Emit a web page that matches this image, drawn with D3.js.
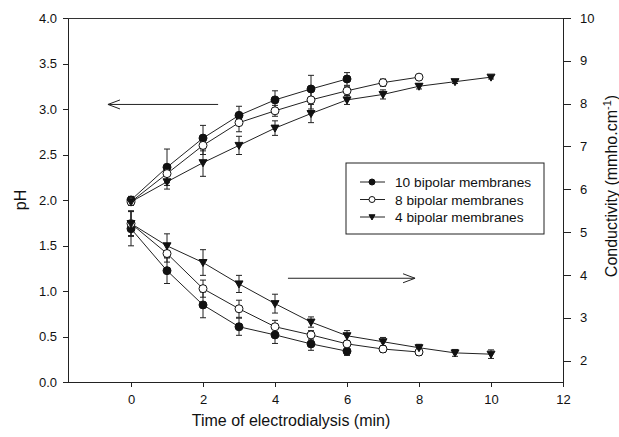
<!DOCTYPE html>
<meta charset="utf-8">
<style>
body { margin: 0; background: #fff; }
text { font-family: "Liberation Sans", Arial, sans-serif; fill: #111; }
.axis path, .axis line { stroke: #222; shape-rendering: crispEdges; }
.axis text { font-size: 13px; }
</style>
<script src="https://cdn.jsdelivr.net/npm/d3@7"></script>
<body>
<script>

// time (min) for each run
var time10 = [0, 1, 2, 3, 4, 5, 6];
var time8 = [0, 1, 2, 3, 4, 5, 6, 7, 8];
var time4 = [0, 1, 2, 3, 4, 5, 6, 7, 8, 9, 10];

// pH (left axis)
var ph10 = [2.00, 2.36, 2.68, 2.93, 3.10, 3.22, 3.33];
var ph10Err = [0.04, 0.20, 0.14, 0.10, 0.10, 0.15, 0.07];
var ph8 = [1.98, 2.29, 2.60, 2.85, 2.98, 3.10, 3.20, 3.29, 3.35];
var ph8Err = [0.04, 0.10, 0.10, 0.10, 0.06, 0.10, 0.05, 0.04, 0.02];
var ph4 = [1.98, 2.20, 2.41, 2.60, 2.79, 2.95, 3.10, 3.16, 3.25, 3.30, 3.35];
var ph4Err = [0.04, 0.08, 0.15, 0.10, 0.08, 0.10, 0.05, 0.05, 0.03, 0.02, 0.02];

// conductivity, mmho/cm (right axis)
var cond10 = [5.08, 4.10, 3.30, 2.79, 2.60, 2.39, 2.22];
var cond10Err = [0.40, 0.30, 0.30, 0.20, 0.20, 0.15, 0.10];
var cond8 = [5.20, 4.50, 3.68, 3.21, 2.79, 2.60, 2.39, 2.27, 2.20];
var cond8Err = [0.30, 0.20, 0.20, 0.20, 0.15, 0.10, 0.08, 0.08, 0.08];
var cond4 = [5.20, 4.68, 4.29, 3.79, 3.33, 2.90, 2.58, 2.44, 2.30, 2.18, 2.15];
var cond4Err = [0.28, 0.28, 0.30, 0.20, 0.22, 0.12, 0.12, 0.10, 0.08, 0.08, 0.10];

var xTicks = [0, 2, 4, 6, 8, 10, 12];
var phTicks = [0, 0.5, 1, 1.5, 2, 2.5, 3, 3.5, 4];
var condTicks = [2, 3, 4, 5, 6, 7, 8, 9, 10];
var legendNames = ["10 bipolar membranes", "8 bipolar membranes", "4 bipolar membranes"];

var w = 619, h = 437;
var pLeft = 68, pRight = 563, pTop = 18, pBottom = 382;

var svg = d3.select("body").append("svg")
    .attr("width", w)
    .attr("height", h);

var x = d3.scaleLinear().domain([-1.75, 12]).range([pLeft, pRight]);
var yL = d3.scaleLinear().domain([0, 4]).range([pBottom, pTop]);
var yR = d3.scaleLinear().domain([1.5, 10]).range([pBottom, pTop]);

// frame top line
svg.append("line")
    .attr("x1", pLeft).attr("x2", pRight)
    .attr("y1", pTop).attr("y2", pTop)
    .attr("stroke", "#333").attr("shape-rendering", "crispEdges");

svg.append("g").attr("class", "axis")
    .attr("transform", "translate(0," + pBottom + ")")
    .call(d3.axisBottom(x).tickValues(xTicks).tickSize(5).tickPadding(8).tickSizeOuter(0));

svg.append("g").attr("class", "axis")
    .attr("transform", "translate(" + pLeft + ",0)")
    .call(d3.axisLeft(yL).tickValues(phTicks).tickFormat(d3.format(".1f")).tickSize(5).tickPadding(6).tickSizeOuter(0));

var rAxis = svg.append("g").attr("class", "axis")
    .attr("transform", "translate(" + pRight + ",0)")
    .call(d3.axisRight(yR).tickValues(condTicks).tickSize(8).tickPadding(9).tickSizeOuter(0));
rAxis.selectAll("path, line").attr("stroke", "#777");

// axis titles
svg.append("text")
    .attr("x", 291).attr("y", 426)
    .attr("text-anchor", "middle")
    .style("font-size", "16px")
    .text("Time of electrodialysis (min)");

svg.append("text")
    .attr("transform", "translate(26,200) rotate(-90)")
    .attr("text-anchor", "middle")
    .style("font-size", "16px")
    .text("pH");

var ct = svg.append("text")
    .attr("transform", "translate(617,186) rotate(-90)")
    .attr("text-anchor", "middle")
    .style("font-size", "16px");
ct.append("tspan").text("Conductivity (mmho.cm");
ct.append("tspan").attr("dy", -6).style("font-size", "11px").text("-1");
ct.append("tspan").attr("dy", 6).text(")");

function series(t, v, e, yScale, kind) {
    return t.map(function(d, i) {
        return { x: d, y: v[i], e: e[i], s: yScale, kind: kind };
    });
}

var all = [
    series(time10, ph10, ph10Err, yL, "filled"),
    series(time8, ph8, ph8Err, yL, "open"),
    series(time4, ph4, ph4Err, yL, "tri"),
    series(time10, cond10, cond10Err, yR, "filled"),
    series(time8, cond8, cond8Err, yR, "open"),
    series(time4, cond4, cond4Err, yR, "tri")
];

var line = d3.line()
    .x(function(d) { return x(d.x); })
    .y(function(d) { return d.s(d.y); });

svg.selectAll(".curve")
    .data(all)
    .enter()
    .append("path")
    .attr("class", "curve")
    .attr("d", line)
    .attr("fill", "none")
    .attr("stroke", "#222")
    .attr("stroke-width", 1);

var pts = d3.merge(all);

var eb = svg.selectAll(".err")
    .data(pts)
    .enter()
    .append("g")
    .attr("class", "err")
    .attr("stroke", "#222")
    .attr("stroke-width", 1);
eb.append("line")
    .attr("x1", function(d) { return x(d.x); })
    .attr("x2", function(d) { return x(d.x); })
    .attr("y1", function(d) { return d.s(d.y - d.e); })
    .attr("y2", function(d) { return d.s(d.y + d.e); });
eb.append("line")
    .attr("x1", function(d) { return x(d.x) - 3; })
    .attr("x2", function(d) { return x(d.x) + 3; })
    .attr("y1", function(d) { return d.s(d.y + d.e); })
    .attr("y2", function(d) { return d.s(d.y + d.e); });
eb.append("line")
    .attr("x1", function(d) { return x(d.x) - 3; })
    .attr("x2", function(d) { return x(d.x) + 3; })
    .attr("y1", function(d) { return d.s(d.y - d.e); })
    .attr("y2", function(d) { return d.s(d.y - d.e); });

function marker(sel, kind, r) {
    if (kind === "tri") {
        sel.append("path")
            .attr("d", "M" + (-r) + "," + (-r * 0.75) + "L" + r + "," + (-r * 0.75) + "L0," + r + "Z")
            .attr("fill", "#111")
            .attr("stroke", "#111");
    } else {
        sel.append("circle")
            .attr("r", r)
            .attr("fill", kind === "filled" ? "#111" : "#fff")
            .attr("stroke", "#111");
    }
}

svg.selectAll(".pt")
    .data(pts)
    .enter()
    .append("g")
    .attr("class", "pt")
    .attr("transform", function(d) { return "translate(" + x(d.x) + "," + d.s(d.y) + ")"; })
    .each(function(d) { marker(d3.select(this), d.kind, 4); });

// arrows pointing to the axis each curve family belongs to
function arrow(x1, x2, yv) {
    var ax1 = x(x1), ax2 = x(x2), ay = yL(yv);
    var dir = ax2 > ax1 ? 1 : -1;
    var g = svg.append("g").attr("stroke", "#222").attr("fill", "none").attr("stroke-width", 1);
    g.append("line").attr("x1", ax1).attr("x2", ax2).attr("y1", ay).attr("y2", ay);
    g.append("path").attr("d", "M" + (ax2 - dir * 12) + "," + (ay - 4.5) + "L" + ax2 + "," + ay + "L" + (ax2 - dir * 12) + "," + (ay + 4.5));
}
arrow(2.42, -0.64, 3.05);
arrow(4.36, 7.89, 1.14);

// legend
var lg = svg.append("g");
lg.append("rect")
    .attr("x", 346).attr("y", 163)
    .attr("width", 198).attr("height", 71)
    .attr("fill", "#fff")
    .attr("stroke", "#222");
var kinds = ["filled", "open", "tri"];
legendNames.forEach(function(name, i) {
    var yy = 182 + i * 17.5;
    lg.append("line")
        .attr("x1", 360).attr("x2", 385)
        .attr("y1", yy).attr("y2", yy)
        .attr("stroke", "#222");
    marker(lg.append("g").attr("transform", "translate(372," + yy + ")"), kinds[i], 3);
    lg.append("text")
        .attr("x", 395).attr("y", yy + 5)
        .style("font-size", "13.7px")
        .text(name);
});

</script>
</body>
